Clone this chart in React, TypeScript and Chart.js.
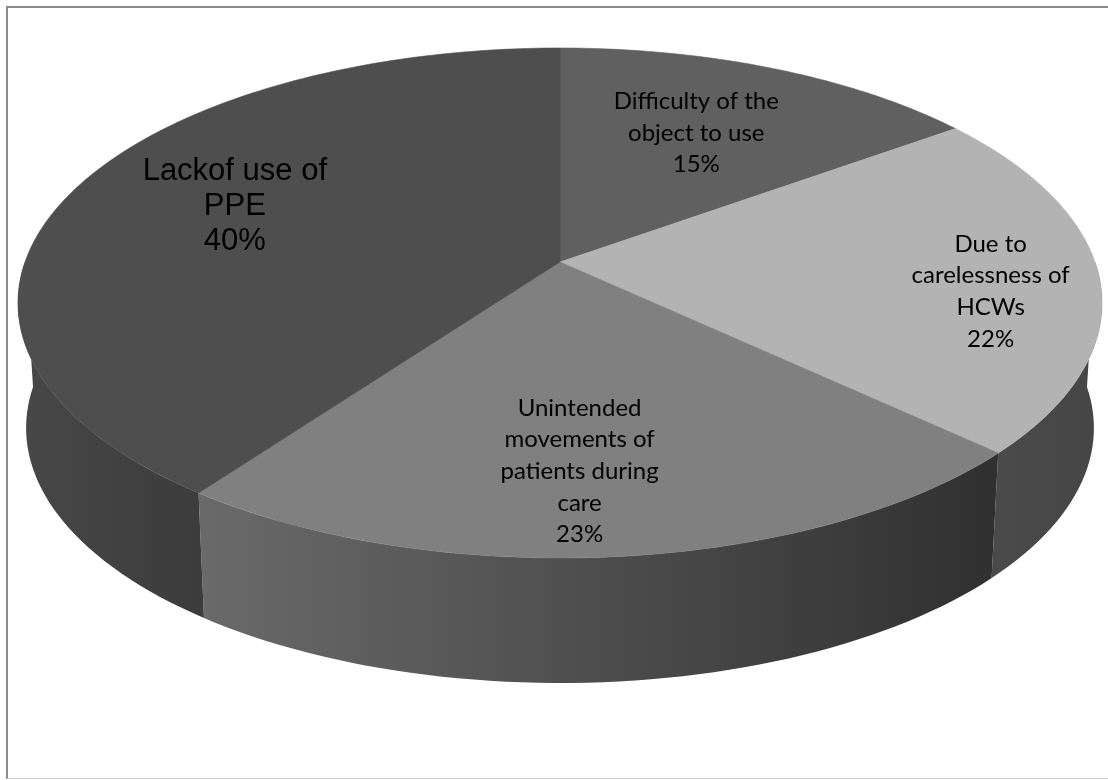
import { useEffect, useRef } from "react";
import { Chart, registerables } from "chart.js";

Chart.register(...registerables);

// ---- data ----
const categories = [
  "Difficulty of the object to use",
  "Due to carelessness of HCWs",
  "Unintended movements of patients during care",
  "Lackof use of PPE",
];
const labelLines = [
  ["Difficulty of the", "object to use"],
  ["Due to", "carelessness of", "HCWs"],
  ["Unintended", "movements of", "patients during", "care"],
  ["Lackof use of", "PPE"],
];
const shares = [15, 22, 23, 40];

// ---- styles ----
const topColors = ["#606060", "#b3b3b3", "#808080", "#4e4e4e"];
const wallLeft = ["#4a4a4a", "#4a4a4a", "#6a6a6a", "#474747"];
const wallRight = ["#4a4a4a", "#464646", "#303030", "#3c3c3c"];
const labelRadius = [0.61, 0.8, 0.745, 0.66];
const labelShift = [
  [0, -5],
  [0, 17],
  [-23, 0],
  [0, -6],
];
const labelFonts = ['24px Lato', '24px Lato', '24px Lato', '31px "Liberation Sans"'];
const labelLineHeights = [31.7, 31.7, 31.7, 35];

// perspective geometry of the tilted disk
const CY = 262;
const RX = 535;
const RY = 248.4;
const PERSP = 0.1607;
const DEPTH = 125;
const BOTTOM_SCALE = 0.985;

function project(cx: number, a: number, r: number, bottom: boolean) {
  const p = Math.cos(a) * r;
  const q = Math.sin(a) * r;
  const d = 1 - PERSP * q;
  const sx = bottom ? RX * BOTTOM_SCALE : RX;
  return {
    x: cx + (sx * p) / d,
    y: CY + (bottom ? DEPTH : 0) + (RY * q) / d,
  };
}

const pie3d = {
  id: "pie3d",
  beforeDraw(chart: any) {
    const ctx = chart.ctx as CanvasRenderingContext2D;
    ctx.save();
    ctx.fillStyle = "#ffffff";
    ctx.fillRect(0, 0, chart.width, chart.height);
    ctx.lineWidth = 2;
    ctx.strokeStyle = "#8c8c8c";
    ctx.beginPath();
    ctx.moveTo(7, 779);
    ctx.lineTo(7, 7);
    ctx.lineTo(chart.width, 7);
    ctx.stroke();
    ctx.lineWidth = 1;
    ctx.strokeStyle = "#cccccc";
    ctx.beginPath();
    ctx.moveTo(7, 778.5);
    ctx.lineTo(chart.width, 778.5);
    ctx.stroke();
    ctx.restore();
  },
  beforeDatasetsDraw(chart: any) {
    const ctx = chart.ctx as CanvasRenderingContext2D;
    const arcs = chart.getDatasetMeta(0).data as any[];
    if (!arcs.length) return false;
    const cx = arcs[0].x;
    const steps = 120;
    ctx.save();
    // side walls (front half only)
    arcs.forEach((arc, i) => {
      const s = Math.max(arc.startAngle, 0);
      const e = Math.min(arc.endAngle, Math.PI);
      if (e <= s) return;
      const n = Math.max(4, Math.ceil(((e - s) / (2 * Math.PI)) * steps * 2));
      ctx.beginPath();
      for (let k = 0; k <= n; k++) {
        const a = s + ((e - s) * k) / n;
        const pt = project(cx, a, 1, false);
        if (k === 0) ctx.moveTo(pt.x, pt.y);
        else ctx.lineTo(pt.x, pt.y);
      }
      for (let k = n; k >= 0; k--) {
        const a = s + ((e - s) * k) / n;
        const pt = project(cx, a, 1, true);
        ctx.lineTo(pt.x, pt.y);
      }
      ctx.closePath();
      const xl = project(cx, e, 1, false).x;
      const xr = project(cx, s, 1, false).x;
      const g = ctx.createLinearGradient(Math.min(xl, xr), 0, Math.max(xl, xr), 0);
      g.addColorStop(0, wallLeft[i]);
      g.addColorStop(1, wallRight[i]);
      ctx.fillStyle = g;
      ctx.fill();
    });
    // top faces
    arcs.forEach((arc, i) => {
      const s = arc.startAngle;
      const e = arc.endAngle;
      const n = Math.max(4, Math.ceil(((e - s) / (2 * Math.PI)) * steps * 3));
      ctx.beginPath();
      ctx.moveTo(cx, CY);
      for (let k = 0; k <= n; k++) {
        const a = s + ((e - s) * k) / n;
        const pt = project(cx, a, 1, false);
        ctx.lineTo(pt.x, pt.y);
      }
      ctx.closePath();
      ctx.fillStyle = topColors[i];
      ctx.fill();
      ctx.strokeStyle = topColors[i];
      ctx.lineWidth = 0.6;
      ctx.stroke();
    });
    ctx.restore();
    return false;
  },
  afterDraw(chart: any) {
    const ctx = chart.ctx as CanvasRenderingContext2D;
    const arcs = chart.getDatasetMeta(0).data as any[];
    if (!arcs.length) return;
    const cx = arcs[0].x;
    const total = shares.reduce((a, b) => a + b, 0);
    ctx.save();
    ctx.fillStyle = "#000000";
    ctx.textAlign = "center";
    ctx.textBaseline = "middle";
    arcs.forEach((arc, i) => {
      const mid = (arc.startAngle + arc.endAngle) / 2;
      const pt = project(cx, mid, labelRadius[i], false);
      const x = pt.x + labelShift[i][0];
      const y = pt.y + labelShift[i][1];
      const lines = [...labelLines[i], Math.round((shares[i] / total) * 100) + "%"];
      const lh = labelLineHeights[i];
      ctx.font = labelFonts[i];
      const y0 = y - ((lines.length - 1) * lh) / 2;
      lines.forEach((t, j) => ctx.fillText(t, x, y0 + j * lh));
    });
    ctx.restore();
  },
};

export default function App() {
  const ref = useRef<HTMLCanvasElement | null>(null);
  useEffect(() => {
    if (!ref.current) return;
    const chart = new Chart(ref.current, {
      type: "pie",
      data: {
        labels: categories,
        datasets: [
          {
            data: shares,
            backgroundColor: topColors,
            borderWidth: 0,
          },
        ],
      },
      options: {
        responsive: false,
        animation: false,
        layout: { padding: { left: 12, right: 0, top: 0, bottom: 0 } },
        plugins: {
          legend: { display: false },
          tooltip: { enabled: false },
        },
      },
      plugins: [pie3d],
    });
    return () => chart.destroy();
  }, []);
  return (
    <div
      style={{
        position: "fixed",
        left: 0,
        top: 0,
        width: 1108,
        height: 780,
        background: "#ffffff",
      }}
    >
      <canvas ref={ref} width={1108} height={780} style={{ display: "block", width: 1108, height: 780 }} />
    </div>
  );
}
